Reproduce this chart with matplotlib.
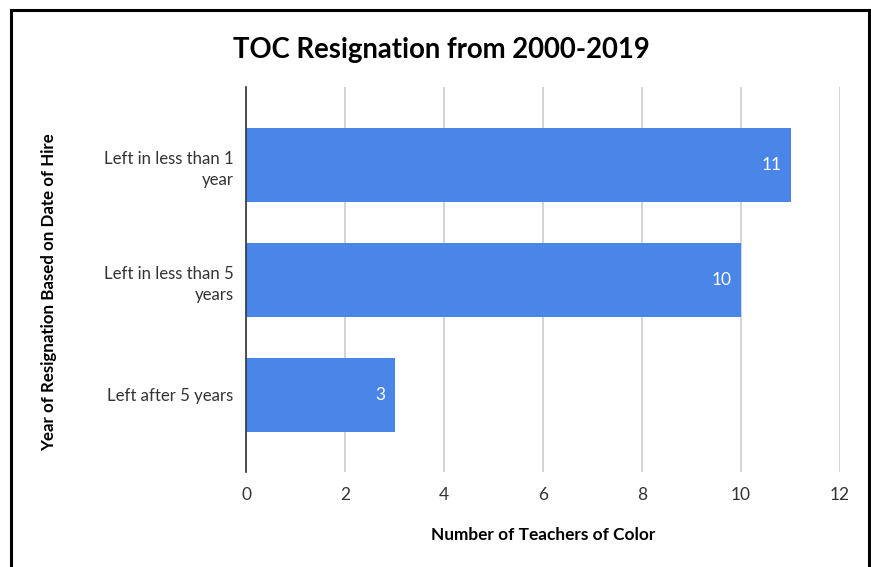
import matplotlib.pyplot as plt
from matplotlib.lines import Line2D

# Resignation counts by tenure group
categories = ['Left in less than 1\nyear', 'Left in less than 5\nyears', 'Left after 5 years']
counts = [11, 10, 3]
x_ticks = [0, 2, 4, 6, 8, 10, 12]

W, H = 871, 567
fig = plt.figure(figsize=(W / 100, H / 100), dpi=100)
fig.patch.set_facecolor('white')

# axes placement in pixels: left 246, right 840, top 87, bottom 472
ax = fig.add_axes([246 / W, 1 - 472 / H, (840 - 246) / W, (472 - 87) / H])

pos = list(range(len(categories)))
bars = ax.barh(pos, counts, height=0.64, color='#4a86e8', zorder=3)
ax.set_ylim(2.67, -0.68)
ax.set_xlim(0, 12)
ax.set_xticks(x_ticks)
ax.set_yticks(pos)
ax.set_yticklabels(categories, fontsize=12.1, color='#333333', family='Lato', linespacing=1.45)
ax.set_xticklabels([str(t) for t in x_ticks], fontsize=12.5, color='#333333', family='Lato')
ax.tick_params(length=0, pad=9)
ax.tick_params(axis='x', pad=11)

ax.grid(axis='x', color='#cccccc', linewidth=1.2, zorder=0)
for side in ['top', 'right', 'bottom']:
    ax.spines[side].set_visible(False)
ax.spines['left'].set_color('#333333')
ax.spines['left'].set_linewidth(1.2)
ax.spines['left'].set_zorder(4)

for b, v in zip(bars, counts):
    ax.text(v - 0.18, b.get_y() + b.get_height() / 2, str(v), ha='right', va='center',
            color='white', fontsize=12.5, family='Lato')

fig.text(441 / W, 1 - 50 / H, 'TOC Resignation from 2000-2019', ha='center', va='center',
         fontsize=19.8, fontweight='bold', family='Lato')
fig.text(543 / W, 1 - 535 / H, 'Number of Teachers of Color', ha='center', va='center',
         fontsize=12.4, fontweight='bold', family='Lato')
fig.text(49 / W, 1 - 292 / H, 'Year of Resignation Based on Date of Hire', ha='center', va='center',
         rotation=90, fontsize=12.2, fontweight='bold', family='Lato')

# black frame around the chart (bottom edge runs off the image)
fr = dict(color='black', linewidth=2.2, transform=fig.transFigure)
fig.add_artist(Line2D([11 / W, 11 / W], [0, 1 - 10 / H], **fr))
fig.add_artist(Line2D([869 / W, 869 / W], [0, 1 - 10 / H], **fr))
fig.add_artist(Line2D([11 / W, 869 / W], [1 - 10 / H, 1 - 10 / H], **fr))

fig.savefig('out.png', dpi=100)
